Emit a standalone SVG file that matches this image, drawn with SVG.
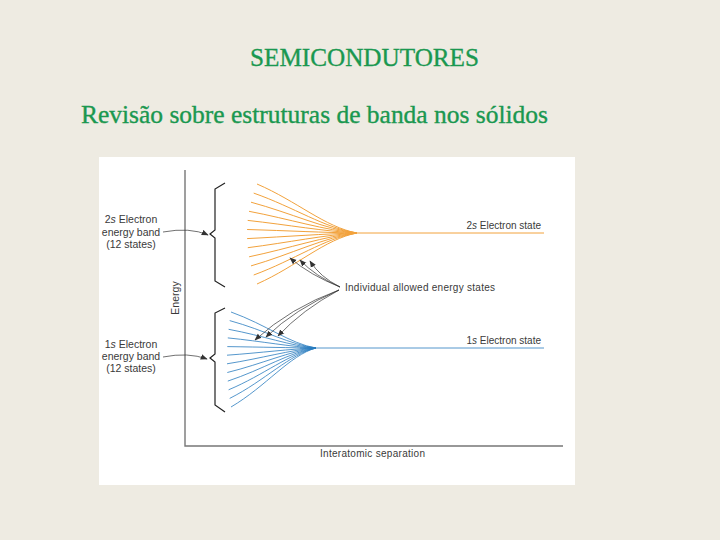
<svg xmlns="http://www.w3.org/2000/svg" width="720" height="540" viewBox="0 0 720 540">
<defs>
<style>
.title{font-family:"Liberation Serif","Times New Roman",serif;fill:#1a9850;stroke:#1a9850;stroke-width:0.35;}
.lbl{font-family:"Liberation Sans",Arial,sans-serif;fill:#3a3a3a;}
.or{fill:none;stroke:#f2a23c;stroke-width:1;}
.bl{fill:none;stroke:#2a7cbf;stroke-width:0.8;}
.brace{fill:none;stroke:#222;stroke-width:1.2;}
.ptr{fill:none;stroke:#333;stroke-width:0.7;marker-end:url(#ah);}
.axis{fill:none;stroke:#777;stroke-width:1.4;}
</style>
<marker id="ah" viewBox="0 0 10 10" refX="9" refY="5" markerWidth="7" markerHeight="7" orient="auto" markerUnits="userSpaceOnUse">
<path d="M0,1 L10,5 L0,9 Z" fill="#333"/>
</marker>
</defs>
<rect x="0" y="0" width="720" height="540" fill="#eeebe2"/>
<g id="title">
<text class="title" x="250" y="66" font-size="26" textLength="229" lengthAdjust="spacingAndGlyphs">SEMICONDUTORES</text>
<text class="title" x="81" y="123" font-size="24.5" textLength="467" lengthAdjust="spacingAndGlyphs">Revisão sobre estruturas de banda nos sólidos</text>
</g>
<rect x="99" y="157" width="476" height="328" fill="#ffffff"/>
<g id="axes">
<path class="axis" d="M185,170 V446 H563"/>
<text class="lbl" font-size="10.5" text-anchor="middle" transform="translate(179,298) rotate(-90)">Energy</text>
<text class="lbl" font-size="10" x="320" y="457" textLength="105">Interatomic separation</text>
</g>
<g id="band-2s">
<path class="or" d="M257,184 C297,201.2 325,227.1 357,233"/>
<path class="or" d="M253.7,193.1 C293.7,207.1 325,228.2 357,233"/>
<path class="or" d="M251,202.2 C291,213 325,229.3 357,233"/>
<path class="or" d="M249,211.3 C289,218.9 325,230.4 357,233"/>
<path class="or" d="M247.7,220.4 C287.7,224.8 325,231.5 357,233"/>
<path class="or" d="M247.1,229.5 C287.1,230.7 325,232.6 357,233"/>
<path class="or" d="M247.1,238.6 C287.1,236.6 325,233.7 357,233"/>
<path class="or" d="M247.8,247.7 C287.8,242.6 325,234.8 357,233"/>
<path class="or" d="M249.1,256.8 C289.1,248.5 325,235.9 357,233"/>
<path class="or" d="M251,265.9 C291,254.4 325,236.9 357,233"/>
<path class="or" d="M253.7,275 C293.7,260.3 325,238 357,233"/>
<path class="or" d="M257,284 C297,266.2 325,239.1 357,233"/>
<path class="or" d="M352,233 H544" stroke-width="1.5"/>
<path class="brace" d="M225,183 L215,189 V230 L210,234 L215,238 V281 L225,287"/>
<text class="lbl" font-size="10" x="541" y="229" text-anchor="end">2<tspan font-style="italic">s</tspan> Electron state</text>
<text class="lbl" font-size="10.5" text-anchor="middle" x="131" y="223">2<tspan font-style="italic">s</tspan> Electron</text>
<text class="lbl" font-size="10.5" text-anchor="middle" x="131" y="236">energy band</text>
<text class="lbl" font-size="10.5" text-anchor="middle" x="131" y="248">(12 states)</text>
</g>
<g id="band-1s">
<path class="bl" d="M231,312 C266,324.6 290,343.7 316,348"/>
<path class="bl" d="M229.7,320.6 C264.7,330.2 290,344.7 316,348"/>
<path class="bl" d="M228.6,329.3 C263.6,335.8 290,345.8 316,348"/>
<path class="bl" d="M227.8,337.9 C262.8,341.4 290,346.8 316,348"/>
<path class="bl" d="M227.3,346.6 C262.3,347.1 290,347.8 316,348"/>
<path class="bl" d="M227,355.2 C262,352.7 290,348.9 316,348"/>
<path class="bl" d="M227,363.8 C262,358.3 290,349.9 316,348"/>
<path class="bl" d="M227.3,372.5 C262.3,363.9 290,350.9 316,348"/>
<path class="bl" d="M227.8,381.1 C262.8,369.5 290,352 316,348"/>
<path class="bl" d="M228.6,389.8 C263.6,375.2 290,353 316,348"/>
<path class="bl" d="M229.7,398.4 C264.7,380.8 290,354 316,348"/>
<path class="bl" d="M231,407 C266,386.4 290,355.1 316,348"/>
<path class="bl" d="M300,348 H544" stroke-width="1.5"/>
<path class="brace" d="M225,308 L215,313 V354 L210,358 L215,362 V405 L225,412"/>
<text class="lbl" font-size="10" x="541" y="344" text-anchor="end">1<tspan font-style="italic">s</tspan> Electron state</text>
<text class="lbl" font-size="10.5" text-anchor="middle" x="131" y="348">1<tspan font-style="italic">s</tspan> Electron</text>
<text class="lbl" font-size="10.5" text-anchor="middle" x="131" y="360">energy band</text>
<text class="lbl" font-size="10.5" text-anchor="middle" x="131" y="372">(12 states)</text>
</g>
<g id="states-label">
<text class="lbl" font-size="10" x="345" y="291" textLength="150">Individual allowed energy states</text>
</g>
<g id="connectors">
<path class="ptr" d="M163,232 Q190,227 208,235"/>
<path class="ptr" d="M163,357 Q188,352 207,359"/>
<path class="ptr" d="M340,287 Q310,275 290,258"/>
<path class="ptr" d="M340,287 Q315,276 300,260"/>
<path class="ptr" d="M340,287 Q320,277 310,261"/>
<path class="ptr" d="M339,290 Q290,308 255,340"/>
<path class="ptr" d="M339,290 Q295,309 266,337"/>
<path class="ptr" d="M339,290 Q302,310 278,336"/>
</g>
</svg>
